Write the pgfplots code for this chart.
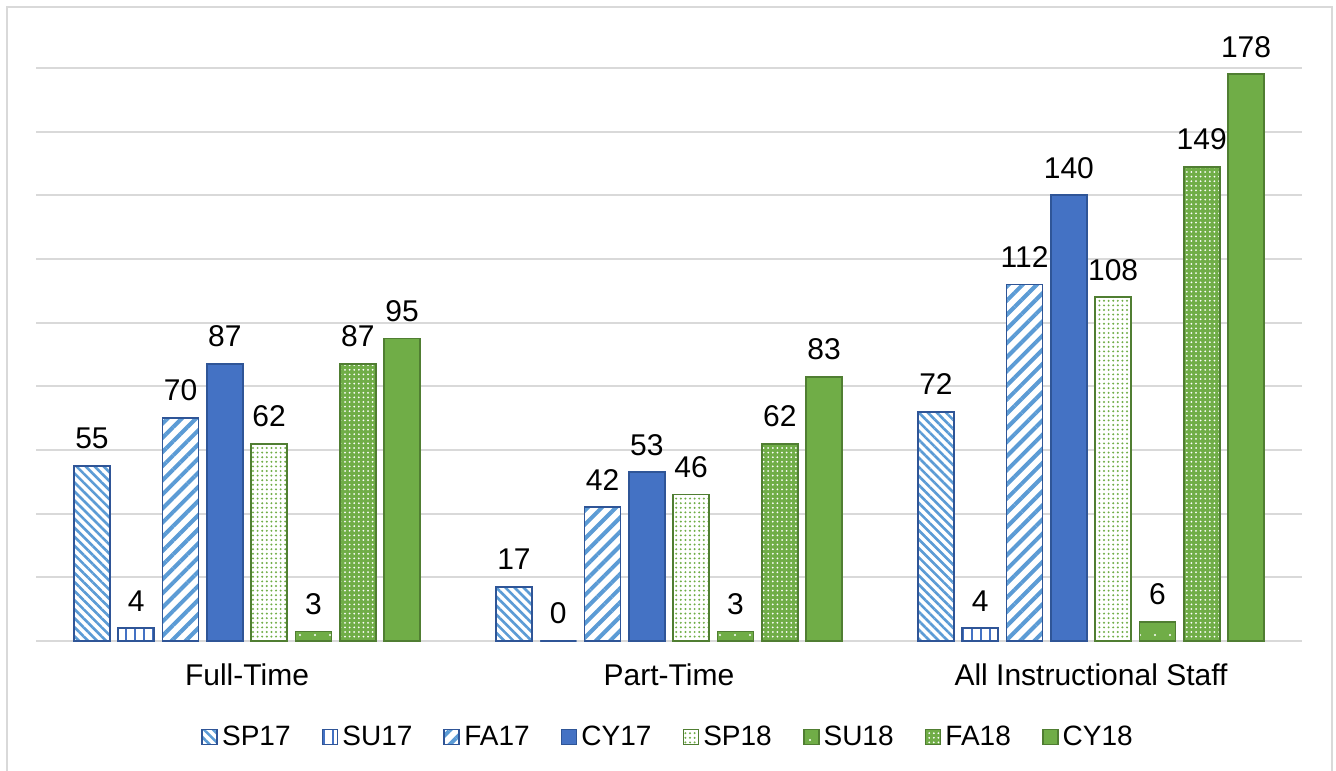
\documentclass[border=0pt]{standalone}
\usepackage{pgfplots}
\pgfplotsset{compat=1.18}
\usetikzlibrary{patterns.meta}
\usepackage{fontspec}
\setmainfont{Liberation Sans}
\definecolor{dblue}{HTML}{4472C4}
\definecolor{lblue}{HTML}{5B9BD5}
\definecolor{bblue}{HTML}{2F5597}
\definecolor{gr}{HTML}{70AD47}
\definecolor{bgr}{HTML}{507E32}
\definecolor{gridc}{HTML}{D9D9D9}
\begin{document}
\begin{tikzpicture}
\useasboundingbox (-18pt,-64.5pt) rectangle (650pt,320.5pt);
\draw[gridc, line width=1pt] (-14.5pt,-80pt) -- (-14.5pt,317pt) -- (648pt,317pt) -- (648pt,-80pt);
\begin{axis}[
  at={(0,0)}, anchor=south west,
  scale only axis, width=633pt, height=286.5pt,
  ybar=4.15pt, bar width=18pt,
  xmin=-0.5, xmax=2.5, ymin=0, ymax=180,
  xtick={0,1,2},
  xticklabels={Full-Time, Part-Time, All Instructional Staff},
  ytick={0,20,...,180}, yticklabels={},
  ymajorgrids, grid style={gridc, line width=1pt},
  axis line style={draw=none},
  tick style={draw=none},
  xticklabel style={font=\fontsize{15}{18}\selectfont, inner sep=0pt, anchor=north, yshift=-7pt},
  /pgf/number format/assume math mode=true,
  nodes near coords,
  nodes near coords style={font=\fontsize{15}{18}\selectfont, text=black, anchor=south, inner sep=0pt, yshift=8pt},
  legend columns=8,
  legend style={draw=none, at={(0.5,-0.1675)}, anchor=center, font=\fontsize{14}{16}\selectfont,
    /tikz/every even column/.append style={column sep=13.5pt}},
  legend image code/.code={\draw[#1] (0pt,-3.75pt) rectangle (7.5pt,3.75pt);},
  clip=false,
]
\addplot[draw=bblue, line width=0.9pt, fill=white, postaction={pattern={Lines[angle=-45,distance=3.2pt,line width=1.3pt]}, pattern color=lblue}]
  coordinates {(0,55) (1,17) (2,72)};
\addplot[draw=bblue, line width=0.9pt, fill=white, postaction={pattern={Lines[angle=90,distance=4.5pt,line width=1.2pt]}, pattern color=dblue}]
  coordinates {(0,4) (1,0) (2,4)};
\addplot[draw=bblue, line width=0.9pt, fill=white, postaction={pattern={Lines[angle=45,distance=5pt,line width=2pt]}, pattern color=lblue}]
  coordinates {(0,70) (1,42) (2,112)};
\addplot[draw=bblue, line width=0.9pt, fill=dblue]
  coordinates {(0,87) (1,53) (2,140)};
\addplot[draw=bgr, line width=0.9pt, fill=white, postaction={pattern={Dots[radius=0.55pt,distance=2.3pt]}, pattern color=gr}]
  coordinates {(0,62) (1,46) (2,108)};
\addplot[draw=bgr, line width=0.9pt, fill=gr, postaction={pattern={Dots[radius=0.6pt,distance=7.5pt]}, pattern color=white}]
  coordinates {(0,3) (1,3) (2,6)};
\addplot[draw=bgr, line width=0.9pt, fill=gr, postaction={pattern={Dots[radius=0.5pt,distance=2.3pt]}, pattern color=white}]
  coordinates {(0,87) (1,62) (2,149)};
\addplot[draw=bgr, line width=0.9pt, fill=gr]
  coordinates {(0,95) (1,83) (2,178)};
\legend{SP17,SU17,FA17,CY17,SP18,SU18,FA18,CY18}
\end{axis}
\end{tikzpicture}
\end{document}
